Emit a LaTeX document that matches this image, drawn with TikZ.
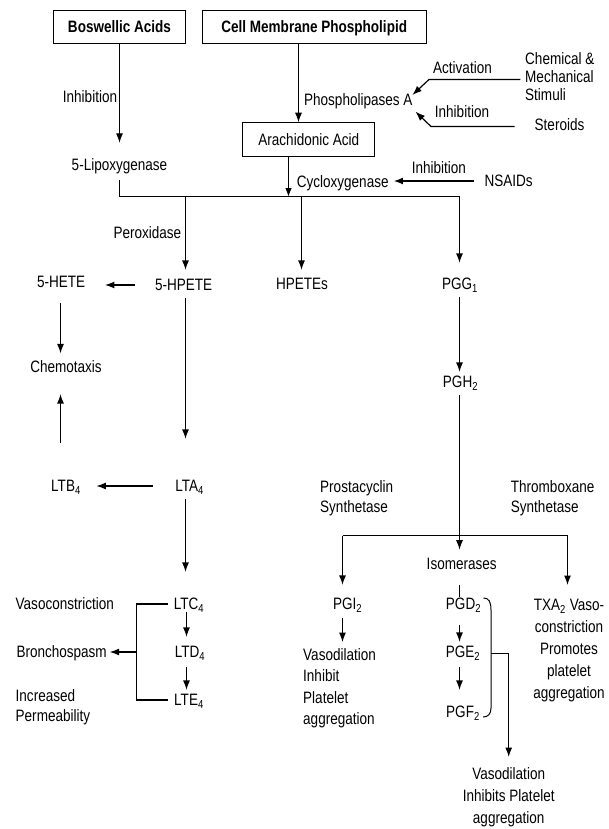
\documentclass[tikz,border=0pt]{standalone}
\usepackage{fontspec}
\setmainfont{Liberation Sans}[FakeStretch=0.82]
\usetikzlibrary{arrows.meta}
\tikzset{
  lbl/.style={font=\fontsize{16.5}{21}\selectfont, inner sep=0pt, text height=11.8pt, text depth=0pt},
  bl/.style={font=\fontsize{16.5}{21}\selectfont\bfseries, inner sep=0pt, text height=11.8pt, text depth=0pt},
  mlbl/.style={font=\fontsize{16.5}{#1}\selectfont, inner sep=0pt},
  ln/.style={line width=1.2pt},
  fineln/.style={line width=0.6pt},
  ar/.style={ln, -{Latex[length=9.5pt,width=7pt]}},
  smallar/.style={line width=0.8pt, -{Latex[length=8.5pt,width=6.5pt]}},
  box/.style={draw, line width=1pt, minimum height=33.3pt}
}
\begin{document}
\begin{tikzpicture}[x=1pt,y=-1pt]
\fill[white] (0,0) rectangle (609,829);
\useasboundingbox (0,0) rectangle (609,829);

% lanes
\coordinate (cx) at (298.5,0);
\coordinate (ax) at (288.5,0);
\coordinate (hy) at (0,196.5);
\coordinate (xA) at (60.5,0);
\coordinate (xB) at (185.5,0);
\coordinate (xC) at (301.5,0);
\coordinate (xD) at (459.5,0);
\coordinate (xP) at (342.5,0);
\coordinate (xT) at (567.5,0);
\coordinate (xL) at (186.5,0);
\coordinate (by) at (0,535.5);
\coordinate (bx) at (136.5,0);

% nodes
\node[bl, box, minimum width=132.4pt] (bosw) at (119.5,26.7) {Boswellic Acids};
\node[bl, box, minimum width=223.7pt] (cell) at (314.2,26.7) {Cell Membrane Phospholipid};
\node[lbl] (inh1) at (90,97) {Inhibition};
\node[lbl] (lipox) at (119.5,165) {5-Lipoxygenase};
\node[lbl] (phosA) at (358.3,100) {Phospholipases A};
\node[lbl] (act) at (462.5,68) {Activation};
\node[lbl] (inh2) at (462,112) {Inhibition};
\node[mlbl=18, align=left, anchor=north west] (chem) at (525,52) {Chemical \&\\Mechanical\\Stimuli};
\node[lbl] (ster) at (559.5,125) {Steroids};
\node[lbl, box, minimum width=132pt] (arach) at (308.8,139.4) {Arachidonic Acid};
\node[lbl] (cyclo) at (342.7,181.7) {Cycloxygenase};
\node[lbl] (inh3) at (438.9,168) {Inhibition};
\node[lbl] (nsaid) at (508.7,181) {NSAIDs};
\node[lbl] (perox) at (147.4,233) {Peroxidase};
\node[lbl] (hete) at (61.2,282) {5-HETE};
\node[lbl] (hpete) at (183.7,285) {5-HPETE};
\node[lbl] (hpetes) at (302,284) {HPETEs};
\node[lbl] (pgg) at (460,284) {PGG\textsubscript{1}};
\node[lbl] (chemo) at (66,367) {Chemotaxis};
\node[lbl] (pgh) at (460.5,382) {PGH\textsubscript{2}};
\node[lbl] (ltb) at (66,486) {LTB\textsubscript{4}};
\node[lbl] (lta) at (189.7,486) {LTA\textsubscript{4}};
\node[mlbl=20, align=left, anchor=north west] (prost) at (320,480) {Prostacyclin\\Synthetase};
\node[mlbl=20, align=left, anchor=north west] (thromb) at (510.7,480) {Thromboxane\\Synthetase};
\node[lbl] (isom) at (461.7,563.3) {Isomerases};
\node[lbl, anchor=west] (vasoc) at (15.5,604) {Vasoconstriction};
\node[lbl] (ltc) at (189,604) {LTC\textsubscript{4}};
\node[lbl] (pgi) at (347.6,604) {PGI\textsubscript{2}};
\node[lbl] (pgd) at (463.5,604) {PGD\textsubscript{2}};
\node[mlbl=22, align=center, anchor=north] (txa) at (569,599) {TXA\textsubscript{2} Vaso-\\constriction\\Promotes\\platelet\\aggregation};
\node[lbl, anchor=west] (bronch) at (16.3,652) {Bronchospasm};
\node[lbl] (ltd) at (190,652) {LTD\textsubscript{4}};
\node[mlbl=21.5, align=left, anchor=north west] (vdil) at (303,648) {Vasodilation\\Inhibit\\Platelet\\aggregation};
\node[lbl] (pge) at (463,652) {PGE\textsubscript{2}};
\node[mlbl=20, align=left, anchor=north west] (incr) at (15.5,689) {Increased\\Permeability};
\node[lbl] (lte) at (189,700) {LTE\textsubscript{4}};
\node[lbl] (pgf) at (463,712) {PGF\textsubscript{2}};
\node[mlbl=22, align=center, anchor=north] (fin) at (508.7,767) {Vasodilation\\Inhibits Platelet\\aggregation};

% helper coordinates for side arrows
\coordinate (a1) at (520.4,79.5);
\coordinate (a2) at (429,79.5);
\coordinate (a3) at (412.4,95);
\coordinate (s1) at (514.6,126.5);
\coordinate (s2) at (431,126.5);
\coordinate (s3) at (415.5,111.7);
\coordinate (br1) at (483.5,598);
\coordinate (br2) at (491,610);
\coordinate (br3) at (491,708);
\coordinate (br4) at (483,717);
\coordinate (bro) at (491,653.5);

% connectors
\draw[ar, shorten >=16pt] (bosw.south) -- (bosw.south |- lipox.north);
\draw[ar] (cell.south -| cx) -- (arach.north -| cx);
\draw[ar] (a1) -- (a2) -- (a3);
\draw[ar] (s1) -- (s2) -- (s3);
\draw[ar, line width=1.6pt, shorten <=10pt, shorten >=4.7pt] (nsaid.west) -- (nsaid.west -| cyclo.east);
\draw[smallar] (arach.south -| ax) -- (hy -| ax);
\draw[ln] ([yshift=-9pt]lipox.south -| bosw.south) -- (hy -| bosw.south) -- (hy -| xD);
\draw[ar, shorten >=9pt] (xB |- hy) -- (xB |- hpete.north);
\draw[ar, shorten >=8pt] (xC |- hy) -- (xC |- hpetes.north);
\draw[ar, shorten >=15pt] (xD |- hy) -- (xD |- pgg.north);
\draw[ar, shorten <=19.6pt, shorten >=19.5pt] (hpete.west) -- (hpete.west -| hete.east);
\draw[ar, shorten <=15pt, shorten >=7.5pt] (xA |- hete.south) -- (xA |- chemo.north);
\draw[ar, shorten <=7pt, shorten >=41pt] (xB |- hpete.south) -- (xB |- lta.north);
\draw[ar, shorten <=7pt, shorten >=4pt] (xD |- pgg.south) -- (xD |- pgh.north);
\draw[ar, shorten <=37pt, shorten >=21pt] (xA |- ltb.north) -- (xA |- chemo.south);
\draw[ar, shorten <=22pt, shorten >=15.4pt] (lta.west) -- (lta.west -| ltb.east);
\draw[ar, shorten <=7pt, shorten >=26pt] (xB |- lta.south) -- (xB |- ltc.north);
\draw[ar, shorten <=7pt, shorten >=7.5pt] (xD |- pgh.south) -- (xD |- isom.north);
\draw[ln] (xP |- by) -- (xT |- by);
\draw[ar, shorten >=13pt] (xP |- by) -- (xP |- pgi.north);
\draw[ar, shorten >=14pt] (xT |- by) -- (xT |- txa.north);
\draw[fineln, shorten <=15.7pt, shorten >=0.5pt] (xD |- isom.south) -- (xD |- pgd.north);
\draw[ar, shorten <=2pt, shorten >=9pt] (xL |- ltc.south) -- (xL |- ltd.north);
\draw[ar, shorten <=9pt, shorten >=4pt] (xL |- ltd.south) -- (xL |- lte.north);
\draw[ln, shorten <=5.8pt, shorten >=5.8pt] (ltc.west) -- (bx |- ltc.west) -- (bx |- lte.west) -- (lte.west);
\draw[ar, shorten >=2.7pt] (bx |- bronch.east) -- (bronch.east);
\draw[ar, shorten <=8pt, shorten >=6pt] (xP |- pgi.south) -- (xP |- vdil.north);
\draw[ar, shorten <=15pt, shorten >=4pt] (xD |- pgd.south) -- (xD |- pge.north);
\draw[ar, shorten <=9pt, shorten >=16pt] (xD |- pge.south) -- (xD |- pgf.north);
\draw[line width=1pt] (br1) .. controls (489,598) and (491,602) .. (br2) -- (br3) .. controls (491,714) and (488,717) .. (br4);
\draw[ar, shorten >=10pt] (bro) -| (fin.north);
\end{tikzpicture}
\end{document}
